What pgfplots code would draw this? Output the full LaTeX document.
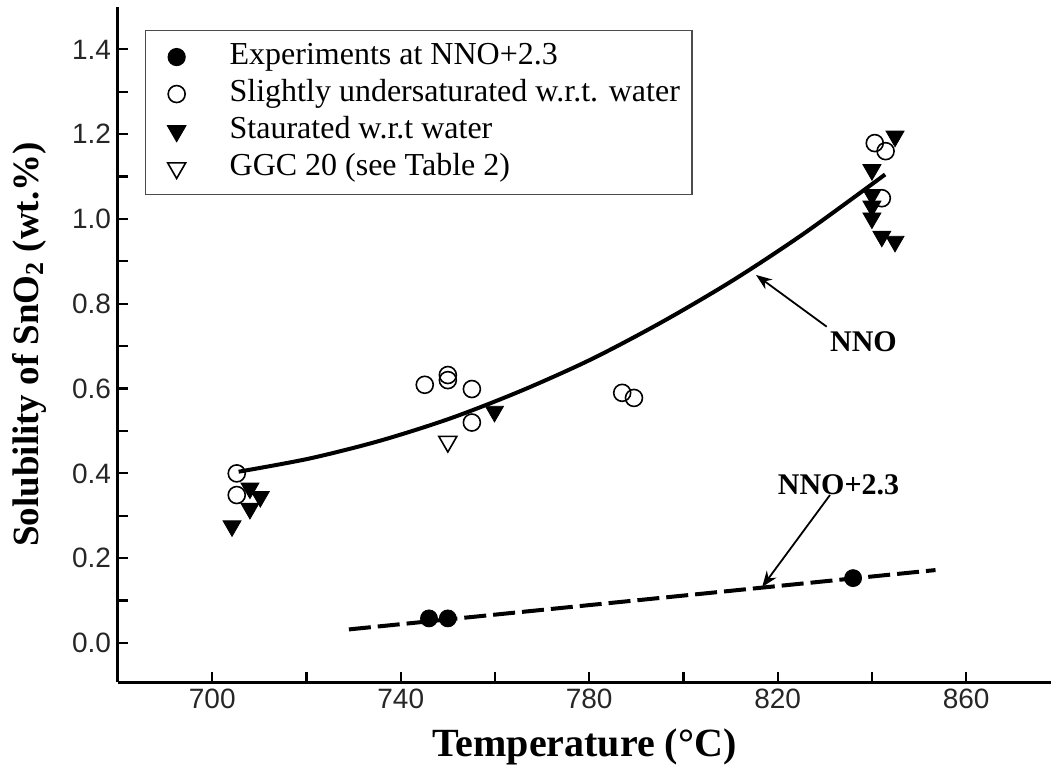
\documentclass[border=0pt]{standalone}
\usepackage{pgfplots}
\pgfplotsset{compat=1.18}
\usepackage{fontspec}
\setmainfont{Liberation Serif}
\newfontfamily\arialfont{Liberation Sans}
\usetikzlibrary{arrows.meta}
\begin{document}
\begin{tikzpicture}
\begin{axis}[
  at={(0pt,0pt)}, anchor=south west,
  scale only axis, width=466.5pt, height=337.5pt,
  xmin=680, xmax=878, ymin=-0.092, ymax=1.5,
  axis x line=bottom, axis y line=left,
  axis line style={-, line width=1.5pt},
  xtick={700,740,...,860}, minor x tick num=1,
  ytick={0,0.2,...,1.41}, minor y tick num=1,
  tick align=inside,
  major tick length=5pt, minor tick length=5pt,
  every tick/.style={line width=1.1pt, black},
  tick label style={font=\arialfont\fontsize{14}{16}\selectfont, text=black!85},
  /pgf/number format/assume math mode=true,
  yticklabel style={/pgf/number format/.cd, fixed, fixed zerofill, precision=1},
  xticklabel style={/pgf/number format/.cd, fixed, 1000 sep={}},
  xlabel={\bfseries\fontsize{20}{24}\selectfont Temperature (°C)},
  ylabel={\bfseries\fontsize{18.5}{22}\selectfont Solubility of SnO$_{\mathbf{2}}$ (wt.\%)},
  xlabel style={yshift=-3pt},
  ylabel style={yshift=6pt},
  legend style={at={(0.029,0.966)}, anchor=north west, draw=black!70, line width=0.6pt,
    font=\fontsize{16}{18}\selectfont, inner sep=4pt, row sep=0pt,
    nodes={inner sep=2pt, text height=11pt, text depth=3.5pt}},
  legend cell align=left,
  legend image code/.code={\path[draw=none, fill=none] (0pt,0pt) -- (36pt,0pt); \path[#1] plot coordinates {(11.5pt,0pt)};},
  clip=false,
]
% NNO curve
\addplot[line width=2pt, smooth, forget plot] coordinates {
 (705.6,0.404) (720.6,0.435) (735.6,0.477) (750.6,0.530) (765.6,0.595)
 (780.6,0.670) (795.6,0.758) (810.6,0.856) (825.6,0.966) (842.8,1.105)};
% NNO+2.3 dashed line
\addplot[line width=2pt, dash pattern=on 11pt off 3.5pt, forget plot] coordinates {
 (729,0.032) (853.5,0.172)};
% Experiments at NNO+2.3
\addplot[only marks, mark=*, mark size=4.25pt, mark options={fill=black, draw=black}] coordinates {
 (746,0.058) (750,0.058) (836,0.153)};
\addlegendentry{Experiments at NNO+2.3}
% Slightly undersaturated
\addplot[only marks, mark=o, mark size=4.25pt, mark options={line width=0.8pt, fill=white, draw=black}] coordinates {
 (705.2,0.400) (705.2,0.349) (745.1,0.609) (750,0.632) (750,0.620)
 (755.1,0.599) (755.1,0.520) (787,0.590) (789.5,0.578)
 (840.6,1.179) (842.9,1.160) (842.1,1.049)};
\addlegendentry{Slightly undersaturated w.r.t. water}
% Saturated
\addplot[only marks, mark=triangle*, mark size=5.2pt, mark options={rotate=180, fill=black, draw=black}] coordinates {
 (704.2,0.276) (708,0.365) (710.2,0.345) (708,0.317) (759.9,0.546)
 (844.9,1.195) (840,1.116) (840,1.057) (840,1.030) (840,1.002)
 (842.1,0.959) (844.9,0.947)};
\addlegendentry{Staurated w.r.t water}
% GGC 20
\addplot[only marks, mark=triangle, mark size=5.2pt, mark options={rotate=180, line width=0.8pt, fill=white, draw=black}] coordinates {
 (750,0.475)};
\addlegendentry{GGC 20 (see Table 2)}
% annotations
\draw[line width=0.9pt, -{Stealth[length=8pt, width=6pt]}] (axis cs:830.4,0.746) -- (axis cs:815.4,0.868);
\node[font=\bfseries\fontsize{15}{18}\selectfont] at (axis cs:838.2,0.711) {NNO};
\draw[line width=0.9pt, -{Stealth[length=8pt, width=6pt]}] (axis cs:831.1,0.349) -- (axis cs:816.7,0.132);
\node[font=\bfseries\fontsize{15}{18}\selectfont] at (axis cs:832.9,0.372) {NNO+2.3};
\end{axis}
\pgfresetboundingbox
\useasboundingbox (-59pt,-42.5pt) rectangle (466.5pt,341pt);
\end{tikzpicture}
\end{document}
